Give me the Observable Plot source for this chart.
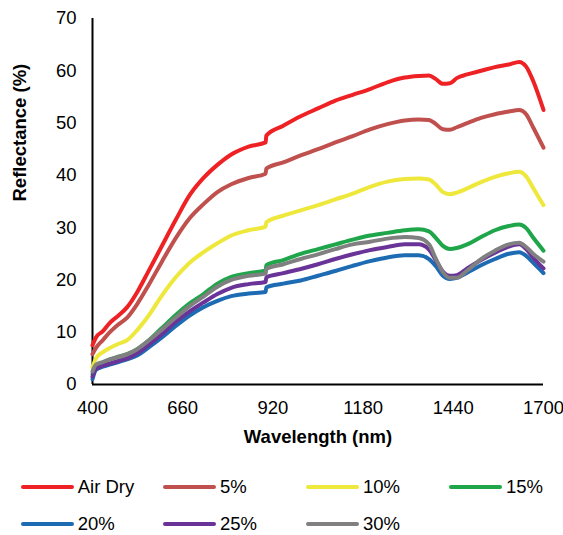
<!DOCTYPE html>
<html>
<head>
<meta charset="utf-8">
<script src="https://cdn.jsdelivr.net/npm/d3@7"></script>
<script src="https://cdn.jsdelivr.net/npm/@observablehq/plot@0.6"></script>
<style>
  body { margin: 0; background: #fff; font-family: "Liberation Sans", Arial, sans-serif; }
  #wrap { position: relative; width: 563px; height: 535px; }
  .leg { position: absolute; display: flex; align-items: center; font-size: 18.5px; color: #000; white-space: nowrap; }
  .leg span.sw { display: inline-block; width: 53px; height: 4px; border-radius: 2px; margin-right: 4px; }
</style>
</head>
<body>
<div id="wrap"><div id="chart"></div><div id="legend"></div></div>
<script>
const wavelengths = [400, 410, 430, 450, 475, 500, 530, 560, 600, 640, 680, 720, 760, 800, 850, 899, 901, 950, 1000, 1050, 1100, 1150, 1200, 1250, 1300, 1340, 1370, 1390, 1410, 1430, 1450, 1480, 1520, 1560, 1600, 1630, 1650, 1670, 1700];

const seriesNames = ["Air Dry", "5%", "10%", "15%", "20%", "25%", "30%"];
const seriesColors = ["#ee2224", "#c0504d", "#eee83c", "#1fa64a", "#1c6bb3", "#6a3397", "#808080"];

const airDry = [7.5, 9.0, 10.2, 11.8, 13.2, 14.8, 17.8, 21.5, 26.5, 31.5, 36.2, 39.5, 42.0, 44.0, 45.5, 46.3, 47.6, 49.5, 51.3, 52.8, 54.3, 55.4, 56.5, 57.8, 58.7, 59.0, 59.1, 58.4, 57.5, 57.6, 58.6, 59.3, 60.0, 60.7, 61.2, 61.7, 60.8, 58.1, 52.5];
const pct5 = [5.8, 7.0, 8.5, 10.0, 11.5, 12.8, 15.5, 18.8, 23.5, 28.0, 31.8, 34.5, 36.8, 38.3, 39.5, 40.3, 41.3, 42.5, 43.8, 45.0, 46.3, 47.5, 48.8, 49.8, 50.5, 50.7, 50.6, 49.8, 48.8, 48.7, 49.2, 50.0, 51.0, 51.7, 52.2, 52.5, 51.7, 49.2, 45.3];
const pct10 = [3.3, 5.0, 6.2, 7.0, 7.8, 8.5, 10.5, 13.0, 17.0, 20.5, 23.3, 25.3, 27.0, 28.5, 29.5, 30.2, 31.0, 32.3, 33.3, 34.3, 35.4, 36.5, 37.8, 38.8, 39.3, 39.4, 39.2, 38.2, 36.8, 36.4, 36.7, 37.5, 38.7, 39.7, 40.4, 40.7, 39.8, 37.6, 34.3];
const pct15 = [2.0, 3.5, 4.2, 4.8, 5.3, 5.8, 6.8, 8.3, 10.8, 13.3, 15.5, 17.3, 19.3, 20.6, 21.3, 21.8, 22.8, 23.8, 25.0, 25.9, 26.8, 27.7, 28.5, 29.0, 29.5, 29.7, 29.3, 28.0, 26.5, 25.9, 26.1, 26.8, 28.2, 29.5, 30.3, 30.6, 29.9, 28.1, 25.6];
const pct20 = [1.0, 2.8, 3.4, 3.8, 4.3, 4.8, 5.6, 7.0, 9.0, 11.2, 13.2, 14.8, 16.0, 16.9, 17.4, 17.7, 18.6, 19.3, 19.9, 20.8, 21.7, 22.7, 23.6, 24.3, 24.7, 24.7, 24.0, 22.6, 20.8, 20.2, 20.4, 21.4, 22.8, 24.0, 25.0, 25.3, 24.6, 23.3, 21.3];
const pct25 = [1.5, 3.0, 3.6, 4.0, 4.5, 5.0, 6.0, 7.5, 9.6, 12.0, 14.0, 15.7, 17.3, 18.5, 19.2, 19.6, 20.5, 21.3, 22.1, 23.0, 24.0, 24.9, 25.7, 26.3, 26.8, 26.8, 25.8, 23.7, 21.6, 20.8, 20.9, 22.2, 23.8, 25.2, 26.4, 26.8, 25.9, 24.3, 22.2];
const pct30 = [2.5, 3.8, 4.3, 4.8, 5.3, 5.8, 6.8, 8.3, 10.5, 12.8, 15.0, 16.8, 18.7, 20.0, 20.8, 21.2, 22.1, 23.0, 24.0, 24.9, 25.9, 26.8, 27.3, 27.9, 28.2, 28.0, 26.8, 24.0, 21.5, 20.4, 20.4, 21.8, 24.0, 25.6, 26.8, 27.1, 26.3, 25.0, 23.5];

const xTicks = [400, 660, 920, 1180, 1440, 1700];
const yTicks = [0, 10, 20, 30, 40, 50, 60, 70];

const allSeries = [airDry, pct5, pct10, pct15, pct20, pct25, pct30];
const rows = [];
allSeries.forEach((vals, i) => {
  vals.forEach((v, j) => rows.push({series: seriesNames[i], wl: wavelengths[j], r: v}));
});

const font = '"Liberation Sans", Arial, sans-serif';

const chart = Plot.plot({
  width: 563,
  height: 460,
  marginLeft: 92,
  marginRight: 20,
  marginTop: 18,
  marginBottom: 76,
  style: {fontFamily: font, fontSize: "18.5px", color: "#000", background: "#fff"},
  x: {domain: [400, 1700], ticks: xTicks, label: null},
  y: {domain: [0, 70], ticks: yTicks, label: null},
  color: {domain: seriesNames, range: seriesColors},
  marks: [
    Plot.axisX({ticks: xTicks, tickSize: 0, tickPadding: 16, tickFormat: d => String(d), fontSize: 18.5, label: null}),
    Plot.axisY({ticks: yTicks, tickSize: 0, tickPadding: 16, tickFormat: d => String(d), fontSize: 18.5, label: null}),
    Plot.ruleY([0], {stroke: "#000", strokeWidth: 2}),
    Plot.ruleX([400], {y1: 0, y2: 70, stroke: "#000", strokeWidth: 2}),
    Plot.line(rows, {x: "wl", y: "r", z: "series", stroke: "series", strokeWidth: 4, curve: "monotone-x", strokeLinejoin: "round", strokeLinecap: "round"}),
    Plot.text(["Wavelength (nm)"], {frameAnchor: "bottom", dy: 53, lineAnchor: "middle", fontWeight: "bold", fontSize: 18.5, fill: "#000"}),
    Plot.text(["Reflectance (%)"], {frameAnchor: "left", dx: -72, rotate: -90, lineAnchor: "middle", fontWeight: "bold", fontSize: 18.5, fill: "#000"})
  ]
});
document.getElementById("chart").appendChild(chart);

const legendCols = [20.7, 163, 306, 449];
const leg = document.getElementById("legend");
seriesNames.forEach((name, i) => {
  const col = i % 4, row = Math.floor(i / 4);
  const d = document.createElement("div");
  d.className = "leg";
  d.style.left = legendCols[col] + "px";
  d.style.top = (row === 0 ? 487.3 : 524.3) - 11 + "px";
  d.style.height = "22px";
  const sw = document.createElement("span");
  sw.className = "sw";
  sw.style.background = seriesColors[i];
  d.appendChild(sw);
  const t = document.createElement("span");
  t.textContent = name;
  d.appendChild(t);
  leg.appendChild(d);
});
</script>
</body>
</html>
